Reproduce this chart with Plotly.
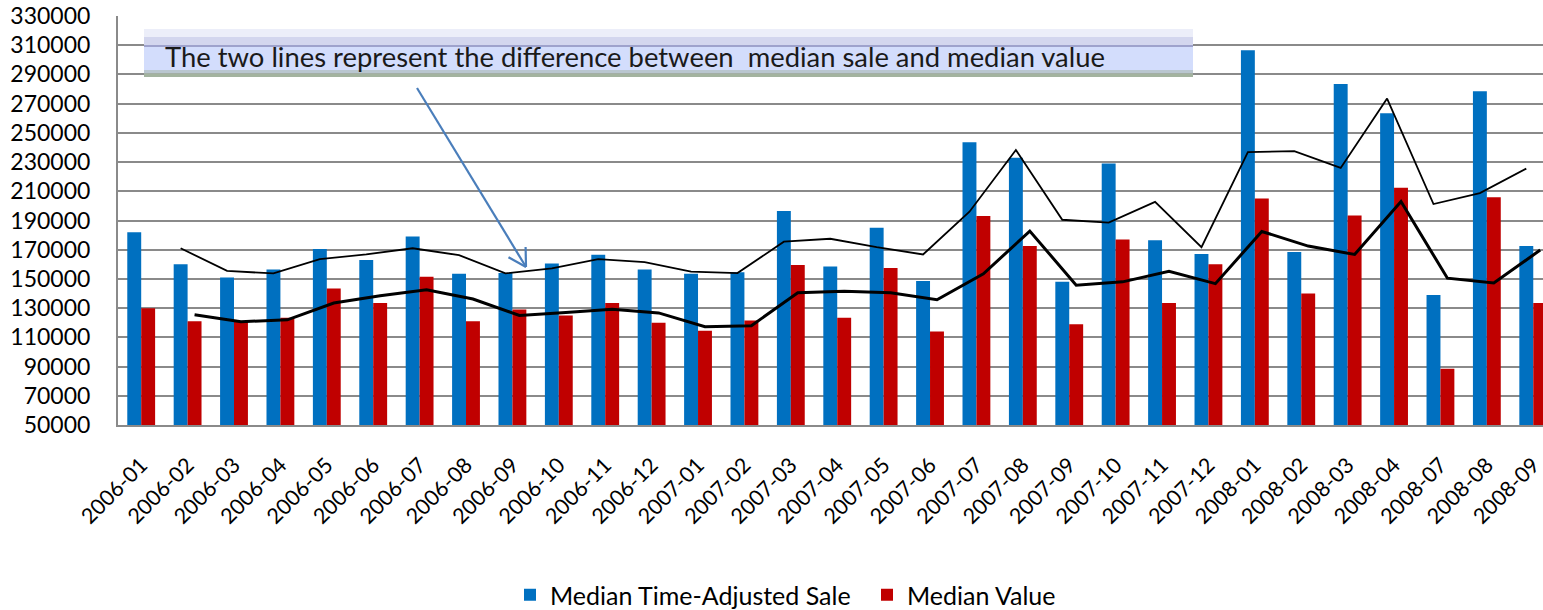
import plotly.graph_objects as go

months = ["2006-01", "2006-02", "2006-03", "2006-04", "2006-05", "2006-06", "2006-07",
          "2006-08", "2006-09", "2006-10", "2006-11", "2006-12", "2007-01", "2007-02",
          "2007-03", "2007-04", "2007-05", "2007-06", "2007-07", "2007-08", "2007-09",
          "2007-10", "2007-11", "2007-12", "2008-01", "2008-02", "2008-03", "2008-04",
          "2008-07", "2008-08", "2008-09"]

median_sale = [182000, 160000, 151000, 156500, 170500, 163000, 179000, 153500, 154000,
               160500, 166500, 156500, 153500, 154500, 196500, 158500, 185000, 148500,
               243500, 233000, 148000, 229000, 176500, 167000, 306500, 168500, 283500,
               263500, 139000, 278500, 172500]

median_value = [130000, 121000, 120500, 123500, 143500, 133500, 151500, 121000, 129000,
                125000, 133500, 120000, 114500, 121500, 159500, 123500, 157500, 114000,
                193000, 172500, 119000, 177000, 133500, 160000, 205000, 140000, 193500,
                212500, 88500, 206000, 133500]

# trend lines (2-period moving average trendlines)
sale_trend = [None, 171000, 155500, 153750, 163500, 166750, 171000, 166250, 153750,
              157250, 163500, 161500, 155000, 154000, 175500, 177500, 171750, 166750,
              196000, 238250, 190500, 188500, 202750, 171750, 236750, 237500, 226000,
              273500, 201250, 208750, 225500]

value_trend = [None, 125500, 120750, 122000, 133500, 138500, 142500, 136250, 125000,
               127000, 129250, 126750, 117250, 118000, 140500, 141500, 140500, 135750,
               153500, 182750, 145750, 148000, 155250, 146750, 182500, 172500, 166750,
               203000, 150500, 147250, 169750]

y_ticks = list(range(50000, 330001, 20000))

annotation_text = "The two lines represent the difference between  median sale and median value"

BLUE = "#0070C0"
RED = "#C00000"
GRID = "#8a8a8a"
FONT = "Lato"

W, H = 1543, 610
L, R, T, B = 118, 0, 16, 185
PW, PH = W - L - R, H - T - B


def px(x):
    return (x - L) / PW


def py(y):
    return (H - B - y) / PH


fig = go.Figure()

fig.add_trace(go.Bar(x=months, y=median_sale, name="Median Time-Adjusted Sale",
                     marker=dict(color=BLUE, line=dict(width=0)),
                     offsetgroup="s", alignmentgroup="g"))
fig.add_trace(go.Bar(x=months, y=median_value, name="Median Value",
                     marker=dict(color=RED, line=dict(width=0)),
                     offsetgroup="v", alignmentgroup="g"))

fig.add_trace(go.Scatter(x=months, y=sale_trend, mode="lines", showlegend=False,
                         line=dict(color="black", width=1.8),
                         offsetgroup="s", alignmentgroup="g", hoverinfo="skip"))
fig.add_trace(go.Scatter(x=months, y=value_trend, mode="lines", showlegend=False,
                         line=dict(color="black", width=3),
                         offsetgroup="v", alignmentgroup="g", hoverinfo="skip"))

shapes = []
# annotation box
bx0, bx1 = 144, 1193
bands = [(29, 37, "#eceef9"), (37, 45, "#d3d6ee"), (45, 47, "#9ea2cc"),
         (47, 70, "#d3ddfc"), (70, 73.5, "#b9c6cf"), (73.5, 77, "#a3b39f")]
for y0, y1, c in bands:
    shapes.append(dict(type="rect", xref="paper", yref="paper",
                       x0=px(bx0), x1=px(bx1), y0=py(y1), y1=py(y0),
                       fillcolor=c, line=dict(width=0), layer="above"))

# arrow
ARROW = "#4a7ebb"
tip = (526, 267)
for (xa, ya) in [(417, 88), (525.6, 247), (508.5, 257.3)]:
    shapes.append(dict(type="line", xref="paper", yref="paper",
                       x0=px(xa), y0=py(ya), x1=px(tip[0]), y1=py(tip[1]),
                       line=dict(color=ARROW, width=2.2), layer="above"))

fig.update_layout(
    width=W, height=H,
    margin=dict(l=L, r=R, t=T, b=B, pad=0, autoexpand=False),
    paper_bgcolor="white", plot_bgcolor="white",
    barmode="group", bargap=0.4, bargroupgap=0,
    scattermode="group", scattergap=0.4,
    font=dict(family=FONT, size=24, color="black"),
    shapes=shapes,
    annotations=[dict(text=annotation_text, xref="paper", yref="paper",
                      x=px(163), y=py(57), xanchor="left", yanchor="middle",
                      showarrow=False, font=dict(family=FONT, size=27.4, color="#1a1a1a"))],
    legend=dict(orientation="h", xref="container", yref="container",
                x=510 / W, y=(H - 595) / H, xanchor="left", yanchor="middle",
                font=dict(family=FONT, size=25, color="black"), traceorder="normal",
                itemwidth=30, entrywidth=312, entrywidthmode="pixels",
                bgcolor="rgba(0,0,0,0)"),
    xaxis=dict(type="category", categoryorder="array", categoryarray=months,
               range=[-0.5, 30.21], tickangle=-45, showgrid=False,
               showline=True, linecolor=GRID, linewidth=2, ticks="",
               tickfont=dict(family=FONT, size=21.5, color="black"),
               ticklabelstandoff=17, automargin=False),
    yaxis=dict(range=[50000, 330000], tickvals=y_ticks, tickformat="d",
               showgrid=True, gridcolor=GRID, gridwidth=1.6,
               showline=True, linecolor=GRID, linewidth=2, zeroline=False, ticks="",
               tickfont=dict(family=FONT, size=23, color="black"),
               ticklabelstandoff=21, automargin=False),
)

fig.write_html("out.html",
               config={"displayModeBar": False},
               post_script="document.body.style.margin='0';document.body.style.padding='0';"
                           "document.body.style.overflow='hidden';")
